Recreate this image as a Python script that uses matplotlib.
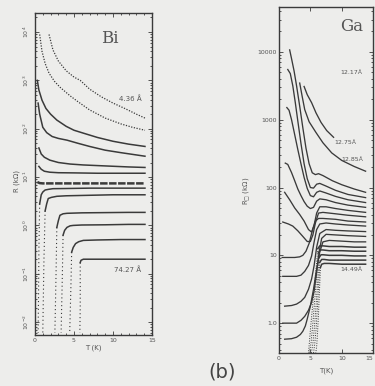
import matplotlib
matplotlib.use('Agg')
import matplotlib.pyplot as plt
import matplotlib.ticker as ticker

BG = '#ededeb'
INK = '#3a3a3a'
TXT = '#555555'

# ---- Bi panel, R (kOhm) vs T (K) ----
# thin insulating films drawn as dotted data strings
BI_T_DOTTED = [
    [1.8, 2.3, 3.0, 4.0, 5.0, 5.8, 7.0, 8.5, 10.0, 11.5, 13.0, 14.1],
    [0.6, 0.9, 1.3, 1.8, 2.5, 3.2, 4.5, 5.5, 7.0, 9.0, 11.0, 12.5, 14.1],
]
BI_R_DOTTED = [
    [8900, 4270, 2510, 1580, 1170, 1000, 660, 457, 339, 263, 200, 166],
    [8900, 3980, 2240, 1410, 955, 724, 479, 363, 245, 166, 126, 107, 93],
]
BI_T_SOLID = [
    [0.3, 0.5, 0.9, 1.4, 2.0, 2.8, 4.0, 5.0, 6.2, 8.0, 10.0, 12.0, 14.1],
    [0.4, 0.6, 1.0, 1.5, 2.2, 3.0, 4.1, 5.5, 7.0, 9.0, 11.0, 14.1],
    [0.5, 0.8, 1.2, 1.9, 3.0, 4.5, 6.2, 9.0, 12.0, 14.1],
    [0.5, 0.8, 1.2, 1.9, 3.0, 5.0, 8.0, 11.0, 14.1],
    [0.6, 0.8, 1.0, 1.3, 1.8, 2.3, 4.0, 7.0, 10.0, 14.1],
    [1.3, 1.5, 1.7, 2.1, 2.8, 4.0, 7.0, 10.0, 14.1],
    [2.8, 3.0, 3.2, 3.6, 4.1, 6.0, 9.0, 12.0, 14.1],
    [3.6, 3.8, 4.1, 4.5, 4.9, 6.0, 9.0, 12.0, 14.1],
    [4.7, 4.9, 5.2, 5.6, 6.2, 8.0, 11.0, 14.1],
    [5.8, 5.9, 6.2, 7.0, 9.0, 12.0, 14.1],
]
BI_R_SOLID = [
    [1000, 631, 389, 263, 200, 151, 112, 93, 81, 66, 55, 48, 43],
    [339, 200, 107, 83, 69, 63, 58, 50, 43, 36, 32, 27],
    [40, 30, 25.7, 22.4, 20, 18.6, 17.8, 17, 16.2, 15.8],
    [16.6, 14.5, 13.2, 12.6, 12.3, 12.2, 12.0, 12.0, 12.0],
    [2.8, 4.3, 4.9, 5.4, 5.6, 5.75, 5.8, 5.9, 5.9, 5.9],
    [2.0, 2.8, 3.6, 3.8, 4.0, 4.1, 4.2, 4.3, 4.3],
    [0.91, 1.26, 1.62, 1.74, 1.78, 1.82, 1.84, 1.86, 1.86],
    [0.63, 0.79, 0.91, 0.98, 1.0, 1.02, 1.03, 1.05, 1.05],
    [0.28, 0.35, 0.42, 0.46, 0.49, 0.50, 0.51, 0.51],
    [0.17, 0.19, 0.2, 0.2, 0.2, 0.2, 0.2],
]
# separatrix
BI_T_SEP = [0.3, 0.6, 1.0, 2.0, 4.0, 7.0, 10.0, 14.1]
BI_R_SEP = [7.9, 7.5, 7.4, 7.4, 7.4, 7.4, 7.4, 7.4]
# superconducting drops (dotted)
BI_T_DROP = [
    [0.6, 0.5, 0.45, 0.4],
    [1.3, 1.15, 1.05, 1.0],
    [2.8, 2.7, 2.6, 2.55],
    [3.6, 3.5, 3.4, 3.35],
    [4.7, 4.6, 4.5, 4.45],
    [5.8, 5.8, 5.75],
]
BI_R_DROP = [
    [2.8, 0.3, 0.03, 0.006],
    [2.0, 0.2, 0.02, 0.006],
    [0.91, 0.1, 0.015, 0.006],
    [0.63, 0.08, 0.015, 0.006],
    [0.28, 0.05, 0.012, 0.006],
    [0.17, 0.02, 0.006],
]
BI_YTICKS = [0.01, 0.1, 1, 10, 100, 1000, 10000]
BI_YLABELS = ['10$^{-2}$', '10$^{-1}$', '10$^{0}$', '10$^{1}$',
              '10$^{2}$', '10$^{3}$', '10$^{4}$']

# ---- Ga panel, R_sq (kOhm) vs T (K) ----
GA_T_HIGH = [
    [4.0, 4.5, 5.2, 5.9, 6.7, 7.6, 8.7],
    [3.3, 3.7, 4.1, 4.8, 5.9, 7.0, 8.4, 10.0, 12.0, 13.8],
]
GA_R_HIGH = [
    [3090, 2340, 1780, 1260, 912, 692, 550],
    [3470, 2190, 1410, 933, 646, 457, 324, 251, 204, 174],
]
GA_T_MID = [
    [1.7, 2.0, 2.4, 2.8, 3.3, 3.8, 4.3, 4.8, 5.3, 5.8, 6.3, 7.0, 8.5, 10, 12, 13.8],
    [1.4, 1.8, 2.2, 2.6, 3.0, 3.5, 4.0, 4.5, 5.0, 5.5, 6.0, 6.5, 7.5, 9, 11, 13.8],
    [1.25, 1.6, 2.0, 2.5, 3.0, 3.5, 4.0, 4.5, 5.0, 5.5, 6.0, 6.5, 7.5, 9, 11, 13.8],
    [1.0, 1.4, 2.0, 2.5, 3.0, 3.5, 4.0, 4.5, 5.0, 5.5, 6.0, 6.5, 7.5, 9, 11, 13.8],
    [0.9, 1.7, 2.5, 3.3, 4.0, 4.7, 5.2, 5.6, 6.0, 6.5, 7.5, 9, 11, 13.8],
    [0.6, 1.5, 2.2, 3.0, 3.8, 4.5, 5.0, 5.4, 5.8, 6.3, 7.0, 9, 11, 13.8],
    [0.5, 1.5, 2.5, 3.3, 3.8, 4.3, 4.8, 5.3, 5.8, 6.3, 7.0, 9, 11, 13.8],
    [0.6, 1.5, 2.8, 3.5, 4.1, 4.7, 5.2, 5.6, 6.0, 6.5, 7.5, 9, 11, 13.8],
    [0.9, 2.0, 2.8, 3.5, 4.1, 4.7, 5.2, 5.6, 6.0, 6.5, 7.5, 9, 11, 13.8],
    [0.6, 1.5, 2.8, 3.5, 4.1, 4.7, 5.2, 5.6, 6.0, 6.4, 6.8, 7.5, 9, 11, 13.8],
    [0.9, 2.0, 2.8, 3.4, 3.8, 4.2, 4.5, 5.0, 5.5, 6.0, 6.5, 7.0, 8, 10, 12, 13.8],
]
GA_R_MID = [
    [10700, 7940, 5250, 3160, 1580, 759, 380, 224, 165, 155, 160, 150, 126, 110, 95, 85],
    [5500, 4790, 3160, 1780, 955, 447, 224, 135, 100, 98, 112, 115, 105, 91, 79, 71],
    [1510, 1380, 1000, 603, 363, 224, 141, 97, 76, 73, 85, 89, 83, 74, 66, 60],
    [229, 219, 166, 126, 95, 76, 62, 53, 49, 51, 63, 68, 66, 60, 55, 51],
    [85, 66, 50, 40, 32, 24, 22, 28, 42, 52, 52, 49, 46, 43],
    [31, 29, 27, 23, 19, 16, 16, 20, 30, 42, 43, 41, 39, 37],
    [9.3, 9.3, 9.3, 9.5, 10, 11.5, 15, 23, 32, 35, 35, 34, 32, 31],
    [4.9, 4.9, 4.9, 5.1, 5.8, 7.1, 9.8, 15.8, 24, 29, 30, 29, 28, 27],
    [1.78, 1.82, 1.91, 2.1, 2.4, 3.16, 4.5, 7.1, 13.2, 21, 24, 23.4, 22.9, 22.4],
    [1.0, 1.0, 1.0, 1.1, 1.26, 1.55, 2.04, 3.0, 5.6, 11.2, 17.8, 20.4, 20, 19.5, 19],
    [0.58, 0.59, 0.62, 0.68, 0.76, 0.91, 1.15, 1.78, 3.16, 6.3, 11.2, 15.8, 16.6, 16.2, 15.8, 15.8],
]
# thicker films: normal part, then dotted drop
GA_T_FLAT = [
    [6.2, 6.5, 7.0, 8.0, 10.0, 12.0, 13.8],
    [6.3, 6.6, 7.0, 8.0, 10.0, 12.0, 13.8],
    [6.4, 6.7, 7.0, 8.0, 10.0, 12.0, 13.8],
    [6.5, 6.8, 7.2, 8.0, 10.0, 12.0, 13.8],
    [6.6, 6.8, 7.2, 8.0, 10.0, 12.0, 13.8],
]
GA_R_FLAT = [
    [12.6, 13.8, 13.8, 13.5, 13.5, 13.2, 13.2],
    [11.0, 12.0, 12.0, 11.7, 11.7, 11.5, 11.5],
    [9.3, 10.2, 10.2, 10.0, 10.0, 9.8, 9.8],
    [7.9, 8.7, 8.7, 8.5, 8.5, 8.5, 8.5],
    [6.6, 7.4, 7.6, 7.6, 7.4, 7.4, 7.4],
]
GA_T_DROP = [
    [6.2, 5.9, 5.6, 5.3, 5.0, 4.7],
    [6.3, 6.0, 5.7, 5.4, 5.1, 4.8],
    [6.4, 6.15, 5.9, 5.65, 5.4, 5.15],
    [6.5, 6.3, 6.1, 5.9, 5.7, 5.5],
    [6.6, 6.45, 6.3, 6.15, 6.0, 5.85],
]
GA_R_DROP = [
    [12.6, 6.3, 3.16, 1.58, 0.79, 0.36],
    [11.0, 5.0, 2.24, 1.0, 0.5, 0.36],
    [9.3, 4.0, 1.78, 0.89, 0.5, 0.36],
    [7.9, 3.5, 1.6, 0.8, 0.5, 0.36],
    [6.6, 3.0, 1.4, 0.75, 0.45, 0.36],
]
GA_YTICKS = [1, 10, 100, 1000, 10000]
GA_YLABELS = ['1.0', '10', '100', '1000', '10000']
T_TICKS = [0, 5, 10, 15]
T_LABELS = ['0', '5', '10', '15']


def style_axes(ax, ylim):
    ax.set_facecolor(BG)
    ax.set_yscale('log')
    ax.set_xlim(0, 15)
    ax.set_ylim(*ylim)
    ax.set_xticks(T_TICKS, T_LABELS)
    ax.yaxis.set_minor_locator(ticker.LogLocator(base=10, subs=range(2, 10), numticks=30))
    ax.yaxis.set_minor_formatter(ticker.NullFormatter())
    ax.tick_params(which='both', direction='in', colors=INK, labelcolor=TXT,
                   labelsize=4.5, top=True, right=True, width=0.6)
    ax.tick_params(which='major', length=3, pad=2)
    ax.tick_params(which='minor', length=1.5)
    for s in ax.spines.values():
        s.set_color(INK)
        s.set_linewidth(1.0)


fig = plt.figure(figsize=(3.75, 3.86), dpi=100)
fig.patch.set_facecolor(BG)

# Bi
ax1 = fig.add_axes([0.0933, 0.132, 0.312, 0.834])
style_axes(ax1, (0.0054, 24600))
ax1.xaxis.set_minor_locator(ticker.MultipleLocator(1))
for t, r in zip(BI_T_DOTTED, BI_R_DOTTED):
    ax1.plot(t, r, color=INK, lw=0.9, linestyle=(0, (1, 1.2)))
for t, r in zip(BI_T_SOLID, BI_R_SOLID):
    ax1.plot(t, r, color=INK, lw=1.1)
ax1.plot(BI_T_SEP, BI_R_SEP, color=INK, lw=1.8, linestyle=(0, (3, 0.6)))
for t, r in zip(BI_T_DROP, BI_R_DROP):
    ax1.plot(t, r, color=INK, lw=0.8, linestyle=(0, (1, 2.5)))
ax1.set_yticks(BI_YTICKS)
ax1.set_yticklabels(BI_YLABELS, rotation=90, va='center')
ax1.tick_params(axis='y', labelright=False, pad=3)
ax1.set_xlabel('T (K)', fontsize=5, color=TXT, labelpad=1)
ax1.set_ylabel('R (k\u03a9)', fontsize=5, color=TXT)
ax1.yaxis.set_label_coords(-0.13, 0.48)
ax1.text(9.6, 7500, 'Bi', fontsize=12, family='DejaVu Serif', color=TXT,
         ha='center', va='center')
ax1.text(12.2, 410, '4.36 \u00c5', fontsize=5, color=TXT, ha='center', va='center')
ax1.text(11.9, 0.12, '74.27 \u00c5', fontsize=5, color=TXT, ha='center', va='center')

# Ga
ax2 = fig.add_axes([0.744, 0.0855, 0.251, 0.896])
style_axes(ax2, (0.363, 45700))
for t, r in zip(GA_T_HIGH, GA_R_HIGH):
    ax2.plot(t, r, color=INK, lw=0.95)
for t, r in zip(GA_T_MID, GA_R_MID):
    ax2.plot(t, r, color=INK, lw=0.95)
for t, r in zip(GA_T_FLAT, GA_R_FLAT):
    ax2.plot(t, r, color=INK, lw=1.1)
for t, r in zip(GA_T_DROP, GA_R_DROP):
    ax2.plot(t, r, color=INK, lw=0.7, linestyle=(0, (1, 1.5)))
ax2.set_yticks(GA_YTICKS)
ax2.set_yticklabels(GA_YLABELS)
ax2.tick_params(axis='y', pad=1.5)
plt.setp(ax2.get_xticklabels()[-1], ha='right')
ax2.set_xlabel('T(K)', fontsize=5, color=TXT, labelpad=5)
ax2.set_ylabel('R$_{\u25a1}$ (k\u03a9)', fontsize=5, color=TXT)
ax2.yaxis.set_label_coords(-0.29, 0.47)
ax2.text(11.6, 23400, 'Ga', fontsize=12, family='DejaVu Serif', color=TXT,
         ha='center', va='center')
for x, y, s in [(11.6, 4900, '12.17\u00c5'), (10.6, 457, '12.75\u00c5'),
                (11.6, 257, '12.85\u00c5'), (11.6, 6.2, '14.49\u00c5')]:
    ax2.text(x, y, s, fontsize=4.5, color=TXT, ha='center', va='center')

fig.text(0.592, 0.036, '(b)', fontsize=14, color='#444444', ha='center', va='center')

fig.savefig('out.png', dpi=100, facecolor=BG)
